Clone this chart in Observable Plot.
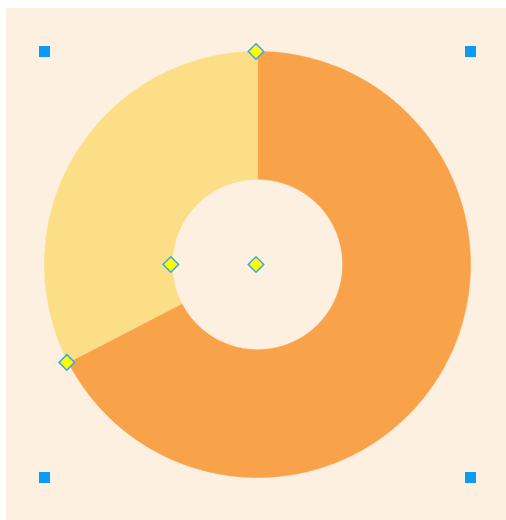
<!DOCTYPE html>
<html>
<head>
<meta charset="utf-8">
<script src="https://cdn.jsdelivr.net/npm/d3@7"></script>
<script src="https://cdn.jsdelivr.net/npm/@observablehq/plot@0.6"></script>
<style>
  html, body { margin: 0; padding: 0; background: #ffffff; }
  #chart { position: absolute; left: 6px; top: 8px; }
</style>
</head>
<body>
<div id="chart"></div>
<script>
// Data
const categories = ["Orange", "Yellow"];
const values = [67.4, 32.6];
const colors = ["#F8A24A", "#FCDE86"];

// Layout (unit radius = outer radius)
const innerRatio = 0.4;
const W = 500, H = 512, R = 213, cx = 251, cy = 256;

const total = d3.sum(values);
let acc = 0;
const slices = categories.map((c, i) => {
  const a0 = acc / total * 2 * Math.PI;
  acc += values[i];
  const a1 = acc / total * 2 * Math.PI;
  return {category: c, a0, a1, color: colors[i]};
});

function ring(s) {
  const pts = [];
  const n = 240;
  for (let k = 0; k <= n; k++) {
    const a = s.a0 + (s.a1 - s.a0) * k / n;
    pts.push({x: Math.sin(a), y: Math.cos(a), category: s.category});
  }
  for (let k = n; k >= 0; k--) {
    const a = s.a0 + (s.a1 - s.a0) * k / n;
    pts.push({x: innerRatio * Math.sin(a), y: innerRatio * Math.cos(a), category: s.category});
  }
  pts.push(pts[0]);
  return pts;
}

const handles = [
  {x: 0, y: 0},
  {x: Math.sin(slices[0].a0), y: Math.cos(slices[0].a0)},
  {x: innerRatio * Math.sin(1.5 * Math.PI), y: innerRatio * Math.cos(1.5 * Math.PI)},
  {x: Math.sin(slices[0].a1), y: Math.cos(slices[0].a1)}
];
const corners = [
  {x: -1, y: 1}, {x: 1, y: 1}, {x: -1, y: -1}, {x: 1, y: -1}
];

const chart = Plot.plot({
  width: W,
  height: H,
  margin: 0,
  style: {background: "#FDF0E1", overflow: "visible"},
  x: {domain: [-cx / R, (W - cx) / R], axis: null},
  y: {domain: [-(H - cy) / R, cy / R], axis: null},
  marks: [
    ...slices.map(s => Plot.line(ring(s), {
      x: "x", y: "y", fill: s.color, stroke: s.color, strokeWidth: 0.6, curve: "linear"
    })),
    Plot.dot(corners, {x: "x", y: "y", symbol: "square", r: 6.2, fill: "#0A9BF5", stroke: "none"}),
    Plot.dot(handles, {x: "x", y: "y", dx: -1.5, symbol: "diamond2", r: 7, fill: "#FFFF00", stroke: "#3AA6EE", strokeWidth: 1.5})
  ]
});

document.getElementById("chart").appendChild(chart);
</script>
</body>
</html>
